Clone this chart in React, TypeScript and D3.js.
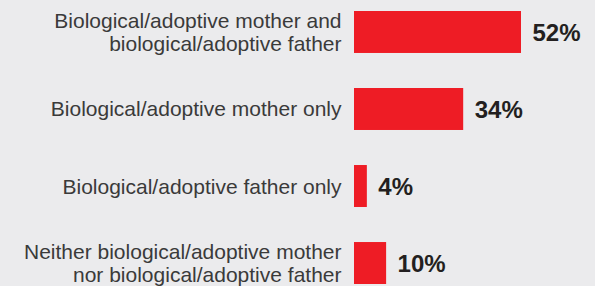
import { useEffect } from 'react'
import * as d3 from 'd3'

const categories = [
  ['Biological/adoptive mother and', 'biological/adoptive father'],
  ['Biological/adoptive mother only'],
  ['Biological/adoptive father only'],
  ['Neither biological/adoptive mother', 'nor biological/adoptive father'],
]
const values = [52, 34, 4, 10]

const width = 595
const height = 286
const barLeft = 354
const labelRight = 341.5

export default function App() {
  useEffect(() => {
    document.body.style.margin = '0'
  }, [])

  const keys = categories.map((_, i) => String(i))

  const y = d3.scaleBand()
    .domain(keys)
    .range([11, 284])
    .paddingInner(0.455)
    .paddingOuter(0)

  const x = d3.scaleLinear()
    .domain([0, 52])
    .range([barLeft, 521])

  const lineHeight = 23.4

  return (
    <svg width={width} height={height} style={{ display: 'block', background: '#ebebed' }}>
      <rect width={width} height={height} fill="#ebebed" />
      {categories.map((lines, i) => {
        const top = y(String(i)) || 0
        const cy = top + y.bandwidth() / 2
        const firstBaseline = cy + 7.5 - ((lines.length - 1) * lineHeight) / 2
        return (
          <g key={i}>
            <text
              x={labelRight}
              textAnchor="end"
              fontFamily="'Liberation Sans', Arial, sans-serif"
              fontSize={21}
              fill="#3a3a3a"
            >
              {lines.map((l, j) => (
                <tspan key={j} x={labelRight} y={firstBaseline + j * lineHeight}>{l}</tspan>
              ))}
            </text>
            <rect
              x={x(0)}
              y={top}
              width={x(values[i]) - x(0)}
              height={y.bandwidth()}
              fill="#ee1c25"
            />
            <text
              x={x(values[i]) + 11.5}
              y={cy + 9}
              fontFamily="'Liberation Sans', Arial, sans-serif"
              fontWeight="bold"
              fontSize={24}
              fill="#231f20"
            >
              {values[i]}%
            </text>
          </g>
        )
      })}
    </svg>
  )
}
